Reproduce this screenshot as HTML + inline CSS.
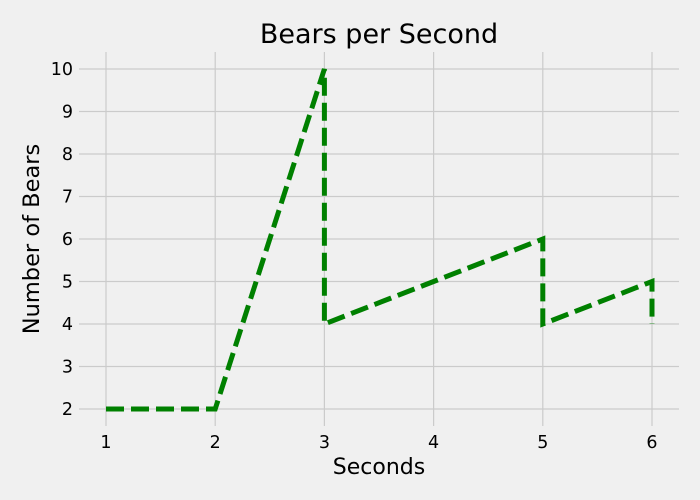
<!DOCTYPE html>
<html><head><meta charset="utf-8"><style>
html,body{margin:0;padding:0;background:#f0f0f0;}
svg{display:block;font-family:"DejaVu Sans","Liberation Sans",sans-serif;}
</style></head><body>
<svg id="chart" width="700" height="500">
<rect width="700" height="500" fill="#f0f0f0"/>
<g id="grid"></g><g id="ticks"></g><g id="series"></g>
<text x="379" y="43" font-size="27" text-anchor="middle" fill="#000">Bears per Second</text>
<text x="379" y="474" font-size="22" text-anchor="middle" fill="#000">Seconds</text>
<text transform="translate(39,239) rotate(-90)" font-size="22.5" text-anchor="middle" fill="#000">Number of Bears</text>
</svg>
<script>
const xValues=[1,2,3,3,4,5,5,6,6];
const yValues=[2,2,10,4,5,6,4,5,4];
const xTicks=[1,2,3,4,5,6];
const yTicks=[2,3,4,5,6,7,8,9,10];
const NS="http://www.w3.org/2000/svg";
const x0=1,x1=6,px0=106,px1=652;
const y0=2,y1=10,py0=409,py1=69;
const sx=v=>px0+(v-x0)*(px1-px0)/(x1-x0);
const sy=v=>py0+(v-y0)*(py1-py0)/(y1-y0);
const axTop=52,axBottom=426,axLeft=79,axRight=679;
const gridG=document.getElementById('grid'),ticksG=document.getElementById('ticks'),seriesG=document.getElementById('series');
function mk(tag,attrs,parent){const e=document.createElementNS(NS,tag);for(const k in attrs)e.setAttribute(k,attrs[k]);parent.appendChild(e);return e;}
xTicks.forEach(t=>{
 const l=mk('line',{x1:sx(t),x2:sx(t),y1:axTop,y2:axBottom,stroke:'#cbcbcb','stroke-width':1.2},gridG);
 
 
 const tx=mk('text',{x:sx(t),y:axBottom+22,'font-size':17.5,'text-anchor':'middle',fill:'#000'},ticksG);
 tx.textContent=t;
 
 
});
yTicks.forEach(t=>{
 const l=mk('line',{x1:axLeft,x2:axRight,y1:sy(t),y2:sy(t),stroke:'#cbcbcb','stroke-width':1.2},gridG);
 
 
 const tx=mk('text',{x:axLeft-6,y:sy(t)+6,'font-size':17.5,'text-anchor':'end',fill:'#000'},ticksG);
 tx.textContent=t;
 
 
});
const pts=xValues.map((v,i)=>sx(v)+','+sy(yValues[i])).join(' ');
const line=mk('polyline',{points:pts,fill:'none',stroke:'#008000','stroke-width':5,'stroke-dasharray':'18,7','stroke-linejoin':'miter'},seriesG);


</script>
</body></html>
